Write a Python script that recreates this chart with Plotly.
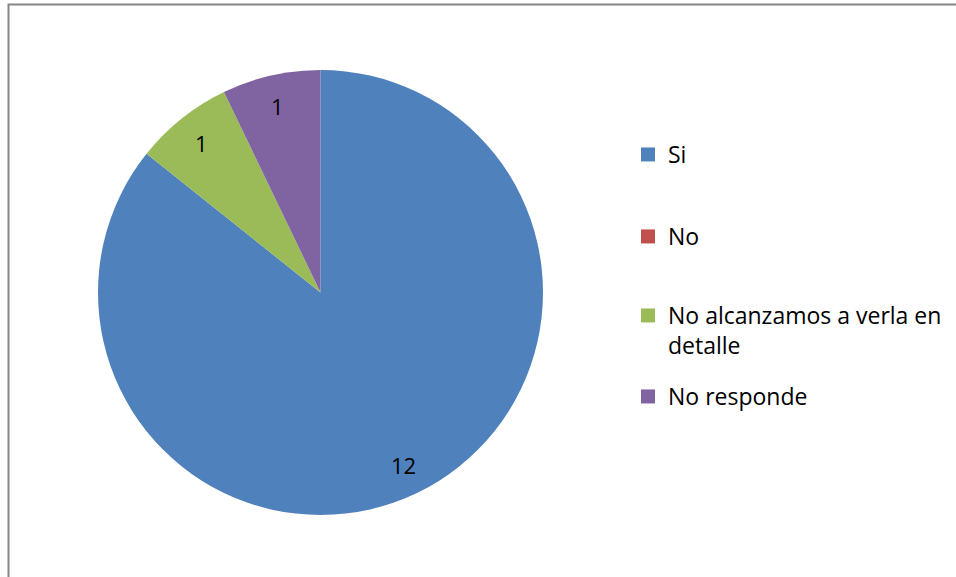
import math
import plotly.graph_objects as go

labels = ["Si", "No", "No alcanzamos a verla en<br>detalle", "No responde"]
values = [12, 0, 1, 1]
colors = ["#4F81BD", "#C0504D", "#9BBB59", "#8064A2"]

W, H = 956, 577
FONT = "Open Sans, Liberation Sans, sans-serif"
DOMAIN = dict(x=[98 / W, 543 / W], y=[1 - 515 / H, 1 - 70 / H])
LABEL_R = 0.86  # value labels sit near the rim, as in the original

fig = go.Figure()

fig.add_trace(go.Pie(
    labels=labels,
    values=values,
    textinfo="none",
    marker=dict(colors=colors, line=dict(width=0)),
    sort=False,
    direction="clockwise",
    rotation=0,
    showlegend=False,
    hoverinfo="label+value",
    domain=DOMAIN,
))

# legend entries (square swatches), one legend per entry for exact spacing
legend_tops = [133, 215, 294, 375]
for i, (lab, col) in enumerate(zip(labels, colors)):
    fig.add_trace(go.Scatter(
        x=[None], y=[None], mode="markers", name=lab,
        marker=dict(symbol="square", size=14, color=col),
        showlegend=True, hoverinfo="skip",
        legend="legend" if i == 0 else f"legend{i + 1}",
    ))

# value labels at the slice mid-angles, placed on a hidden [-1, 1] axis over the pie
total = sum(values)
annotations, cum = [], 0
for v in values:
    ang = math.radians((cum + v / 2) / total * 360)
    cum += v
    if v:
        annotations.append(dict(
            xref="x", yref="y",
            x=LABEL_R * math.sin(ang), y=LABEL_R * math.cos(ang),
            text=str(v), showarrow=False,
            font=dict(family=FONT, size=22, color="black"),
        ))

leg_common = dict(
    xanchor="left", yanchor="top",
    font=dict(family=FONT, size=23, color="black"),
    valign="top", bgcolor="rgba(0,0,0,0)",
    itemclick=False, itemdoubleclick=False,
)
legends = {}
for i, top in enumerate(legend_tops):
    key = "legend" if i == 0 else f"legend{i + 1}"
    legends[key] = dict(x=628 / W, y=1 - top / H, **leg_common)

fig.update_layout(
    width=W, height=H,
    margin=dict(l=0, r=0, t=0, b=0),
    paper_bgcolor="white", plot_bgcolor="rgba(0,0,0,0)",
    xaxis=dict(visible=False, range=[-1, 1], domain=DOMAIN["x"], fixedrange=True),
    yaxis=dict(visible=False, range=[-1, 1], domain=DOMAIN["y"], fixedrange=True),
    annotations=annotations,
    shapes=[dict(
        type="rect", xref="paper", yref="paper",
        x0=8.5 / W, x1=1.05, y0=-0.05, y1=1 - 4.5 / H,
        line=dict(color="#868686", width=2), fillcolor="rgba(0,0,0,0)",
    )],
    **legends,
)

fig.write_html("out.html", config={"displayModeBar": False},
               post_script="document.body.style.margin='0';")
